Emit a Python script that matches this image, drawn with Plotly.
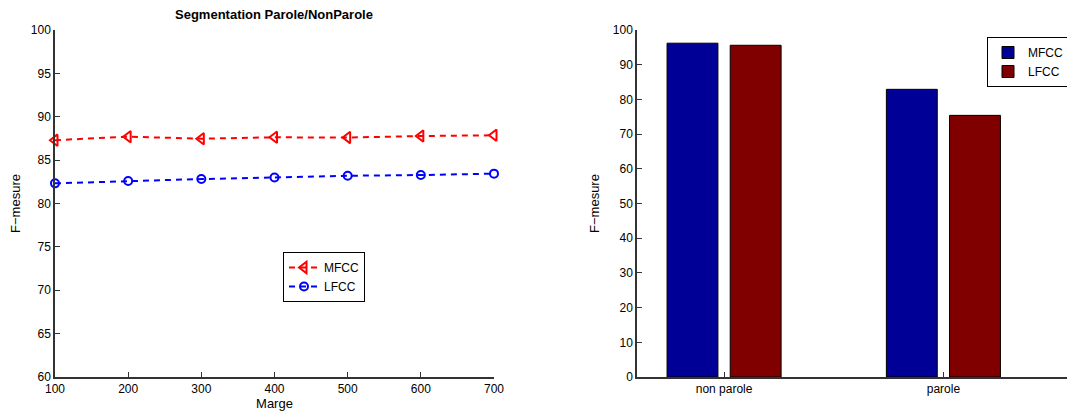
import plotly.graph_objects as go

# Left chart data
marge = [100, 200, 300, 400, 500, 600, 700]
mfcc_line = [87.3, 87.7, 87.47, 87.63, 87.6, 87.78, 87.86]
lfcc_line = [82.32, 82.6, 82.82, 83.0, 83.2, 83.28, 83.44]

# Right chart data
categories = ["non parole", "parole"]
mfcc_bar = [96.2, 82.9]
lfcc_bar = [95.6, 75.4]

OFF = 8  # page body margin
W, H = 1075 - OFF, 415 - OFF
FONT = "Liberation Sans, Arial, Helvetica, sans-serif"
AX = "#333333"

def px_x(p):
    return (p - OFF) / W

def px_y(p):
    return (H - (p - OFF)) / H

fig = go.Figure()

fig.add_trace(go.Scatter(
    x=marge, y=mfcc_line, name="MFCC", mode="lines+markers",
    line=dict(color="#ff0000", width=2, dash="6px,5px"),
    marker=dict(symbol="triangle-left-open", size=10, color="#ff0000",
                line=dict(width=2, color="#ff0000")),
    xaxis="x", yaxis="y", legend="legend", cliponaxis=False,
))
fig.add_trace(go.Scatter(
    x=marge, y=lfcc_line, name="LFCC", mode="lines+markers",
    line=dict(color="#0000ff", width=2, dash="6px,5px"),
    marker=dict(symbol="circle-open", size=8, color="#0000ff",
                line=dict(width=2, color="#0000ff")),
    xaxis="x", yaxis="y", legend="legend", cliponaxis=False,
))

cat_idx = [1, 2]
fig.add_trace(go.Bar(
    x=cat_idx, y=mfcc_bar, name="MFCC", width=0.232, offset=-0.26,
    marker=dict(color="#000096", line=dict(color="#000000", width=1)),
    xaxis="x2", yaxis="y2", legend="legend2",
))
fig.add_trace(go.Bar(
    x=cat_idx, y=lfcc_bar, name="LFCC", width=0.232, offset=0.028,
    marker=dict(color="#800000", line=dict(color="#000000", width=1)),
    xaxis="x2", yaxis="y2", legend="legend2",
))

axis_common = dict(showgrid=False, zeroline=False, showline=True, linecolor=AX,
                   linewidth=1.5, ticks="inside", ticklen=5, tickcolor=AX,
                   automargin=False,
                   tickfont=dict(family=FONT, size=12, color="#000000"))

fig.update_layout(
    width=W, height=H,
    margin=dict(l=0, r=0, t=0, b=0),
    paper_bgcolor="white", plot_bgcolor="white",
    font=dict(family=FONT, size=12, color="#000000"),
    barmode="overlay",
    xaxis=dict(domain=[px_x(55), px_x(494)], range=[100, 700], anchor="y",
               tickvals=marge, ticktext=[str(v) for v in marge],
               title=dict(text="Marge", font=dict(size=13), standoff=1),
               **axis_common),
    yaxis=dict(domain=[px_y(377), px_y(30)], range=[60, 100], anchor="x",
               tickvals=[60, 65, 70, 75, 80, 85, 90, 95, 100],
               title=dict(text="F\u2212mesure", font=dict(size=13), standoff=10),
               **axis_common),
    xaxis2=dict(domain=[px_x(637), 1.0], range=[0.603, 2.6], anchor="y2",
                tickvals=cat_idx, ticktext=categories,
                **axis_common),
    yaxis2=dict(domain=[px_y(377), px_y(30)], range=[0, 100], anchor="x2",
                tickvals=list(range(0, 101, 10)),
                title=dict(text="F\u2212mesure", font=dict(size=13), standoff=10),
                **axis_common),
    legend=dict(x=px_x(283), y=px_y(252), xanchor="left", yanchor="top",
                bordercolor="#000000", borderwidth=1, bgcolor="white",
                font=dict(size=12), itemwidth=30, tracegroupgap=0),
    legend2=dict(x=px_x(1069), y=px_y(37), xanchor="right", yanchor="top",
                 bordercolor="#000000", borderwidth=1, bgcolor="white",
                 font=dict(size=12), itemwidth=30, tracegroupgap=0),
    annotations=[dict(text="<b>Segmentation Parole/NonParole</b>",
                      x=px_x(274), y=px_y(15), xref="paper", yref="paper",
                      showarrow=False, font=dict(size=13), xanchor="center",
                      yanchor="middle")],
    showlegend=True,
)

fig.write_html("out.html")
